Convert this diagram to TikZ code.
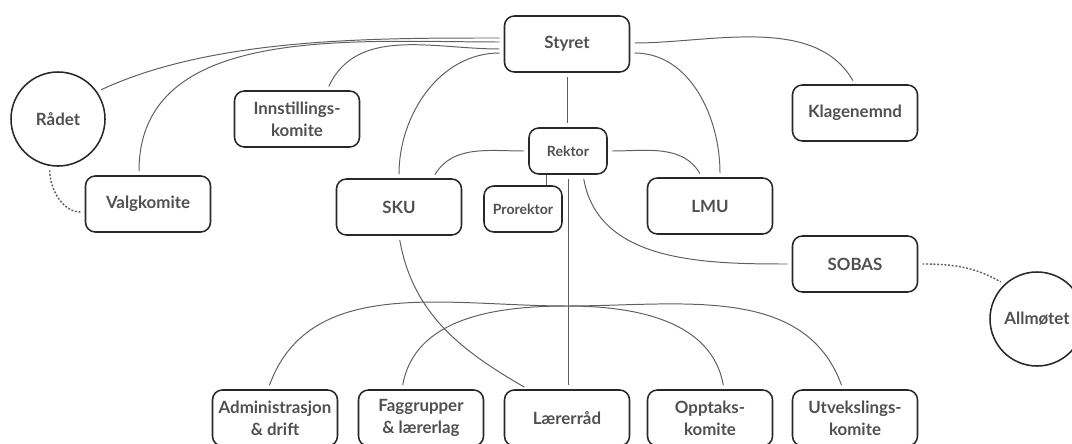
\documentclass[tikz,border=0pt]{standalone}
\usepackage{fontspec}
\setmainfont{Lato}
\usepackage{xcolor}
\definecolor{textgray}{RGB}{80,80,80}
\definecolor{boxline}{RGB}{40,40,40}
\definecolor{linkgray}{RGB}{95,95,95}

\begin{document}
\begin{tikzpicture}[
  orgbox/.style={draw=boxline, line width=1.1pt, rounded corners=7pt, minimum width=3.125cm, minimum height=1.4cm, align=center, text=textgray, font=\bfseries\fontsize{12}{15.5}\selectfont},
  smallbox/.style={orgbox, minimum width=1.95cm, minimum height=1.15cm, font=\bfseries\fontsize{10}{12}\selectfont},
  forum/.style={circle, draw=boxline, line width=1.1pt, minimum size=2.35cm, text=textgray, font=\bfseries\fontsize{12}{14}\selectfont},
  link/.style={draw=linkgray, line width=0.7pt, shorten <=3pt, shorten >=3pt},
  loose/.style={link, line width=1pt, dash pattern=on 1.4pt off 1.2pt}
]
  \useasboundingbox (0, 0) rectangle (26.8, 11.075);

  % Top level
  \node[orgbox] (styret) at (14.175, 9.975) {Styret};
  \node[forum] (raadet) at (1.45, 8.1) {Rådet};
  \node[orgbox] (innstilling) at (7.425, 8.1) {Innstillings-\\komite};
  \node[orgbox] (valgkomite) at (3.7, 5.975) {Valgkomite};
  \node[orgbox] (klagenemnd) at (21.375, 8.25) {Klagenemnd};

  % Rektor and units
  \node[smallbox] (rektor) at (14.2, 7.3) {Rektor};
  \node[orgbox] (sku) at (9.975, 5.9) {SKU};
  \node[smallbox] (prorektor) at (13.075, 5.85) {Prorektor};
  \node[orgbox] (lmu) at (17.75, 5.925) {LMU};
  \node[orgbox] (sobas) at (21.375, 4.475) {SOBAS};
  \node[forum] (allmotet) at (25.925, 3.1) {Allmøtet};

  % Bottom row
  \node[orgbox] (admin) at (6.875, 0.625) {Administrasjon\\\& drift};
  \node[orgbox] (faggrupper) at (10.525, 0.625) {Faggrupper\\\& lærerlag};
  \node[orgbox] (laererraad) at (14.175, 0.625) {Lærerråd};
  \node[orgbox] (opptak) at (17.75, 0.625) {Opptaks-\\komite};
  \node[orgbox] (utveksling) at (21.375, 0.625) {Utvekslings-\\komite};
  \coordinate (hub) at (14.175, 3.425);

  % Links from Styret
  \draw[link] ([yshift=0.15cm]styret.west) to[out=180, in=25, looseness=0.8] (raadet.35);
  \draw[link] ([yshift=0.05cm]styret.west) to[out=180, in=90] ([xshift=-0.225cm]valgkomite.north);
  \draw[link] ([yshift=-0.125cm]styret.west) to[out=180, in=65] ([xshift=0.75cm]innstilling.north);
  \draw[link] ([yshift=-0.225cm]styret.west) to[out=180, in=90] (sku.north);
  \draw[link] (styret.south) -- (styret.south |- rektor.north);
  \draw[link] ([yshift=-0.225cm]styret.east) to[out=0, in=90] ([xshift=0.25cm]lmu.north);
  \draw[link] ([yshift=0.025cm]styret.east) to[out=0, in=120, looseness=0.9] (klagenemnd.north);

  % Links from Rektor
  \draw[link] (rektor.west) to[out=180, in=60] ([xshift=0.85cm]sku.north);
  \draw[link] (rektor.east) to[out=0, in=120] ([xshift=-0.2cm]lmu.north);
  \draw[draw=linkgray, line width=0.7pt] ([xshift=-0.55cm]rektor.south) -- ([xshift=-0.55cm]rektor.south |- prorektor.north);
  \draw[link] (rektor.south) -- (rektor.south |- laererraad.north);
  \draw[link] ([xshift=0.375cm]rektor.south) to[out=-80, in=180] (sobas.west);
  \draw[link] (sku.south) to[out=-80, in=150] ([xshift=-0.975cm]laererraad.north);

  % Fan to bottom row
  \draw[link, shorten <=0pt] (hub) to[out=180, in=70] ([xshift=-0.175cm]admin.north);
  \draw[link, shorten <=0pt] (hub) to[out=180, in=80] ([xshift=-0.475cm]faggrupper.north);
  \draw[link, shorten <=0pt] (hub) to[out=0, in=100] ([xshift=0.35cm]opptak.north);
  \draw[link, shorten <=0pt] (hub) to[out=0, in=110] ([xshift=-0.3cm]utveksling.north);

  % Dotted ties
  \draw[loose] (raadet.-100) to[out=-90, in=180] ([yshift=-0.2cm]valgkomite.west);
  \draw[loose] (sobas.east) to[out=0, in=150] (allmotet.133);
\end{tikzpicture}
\end{document}
